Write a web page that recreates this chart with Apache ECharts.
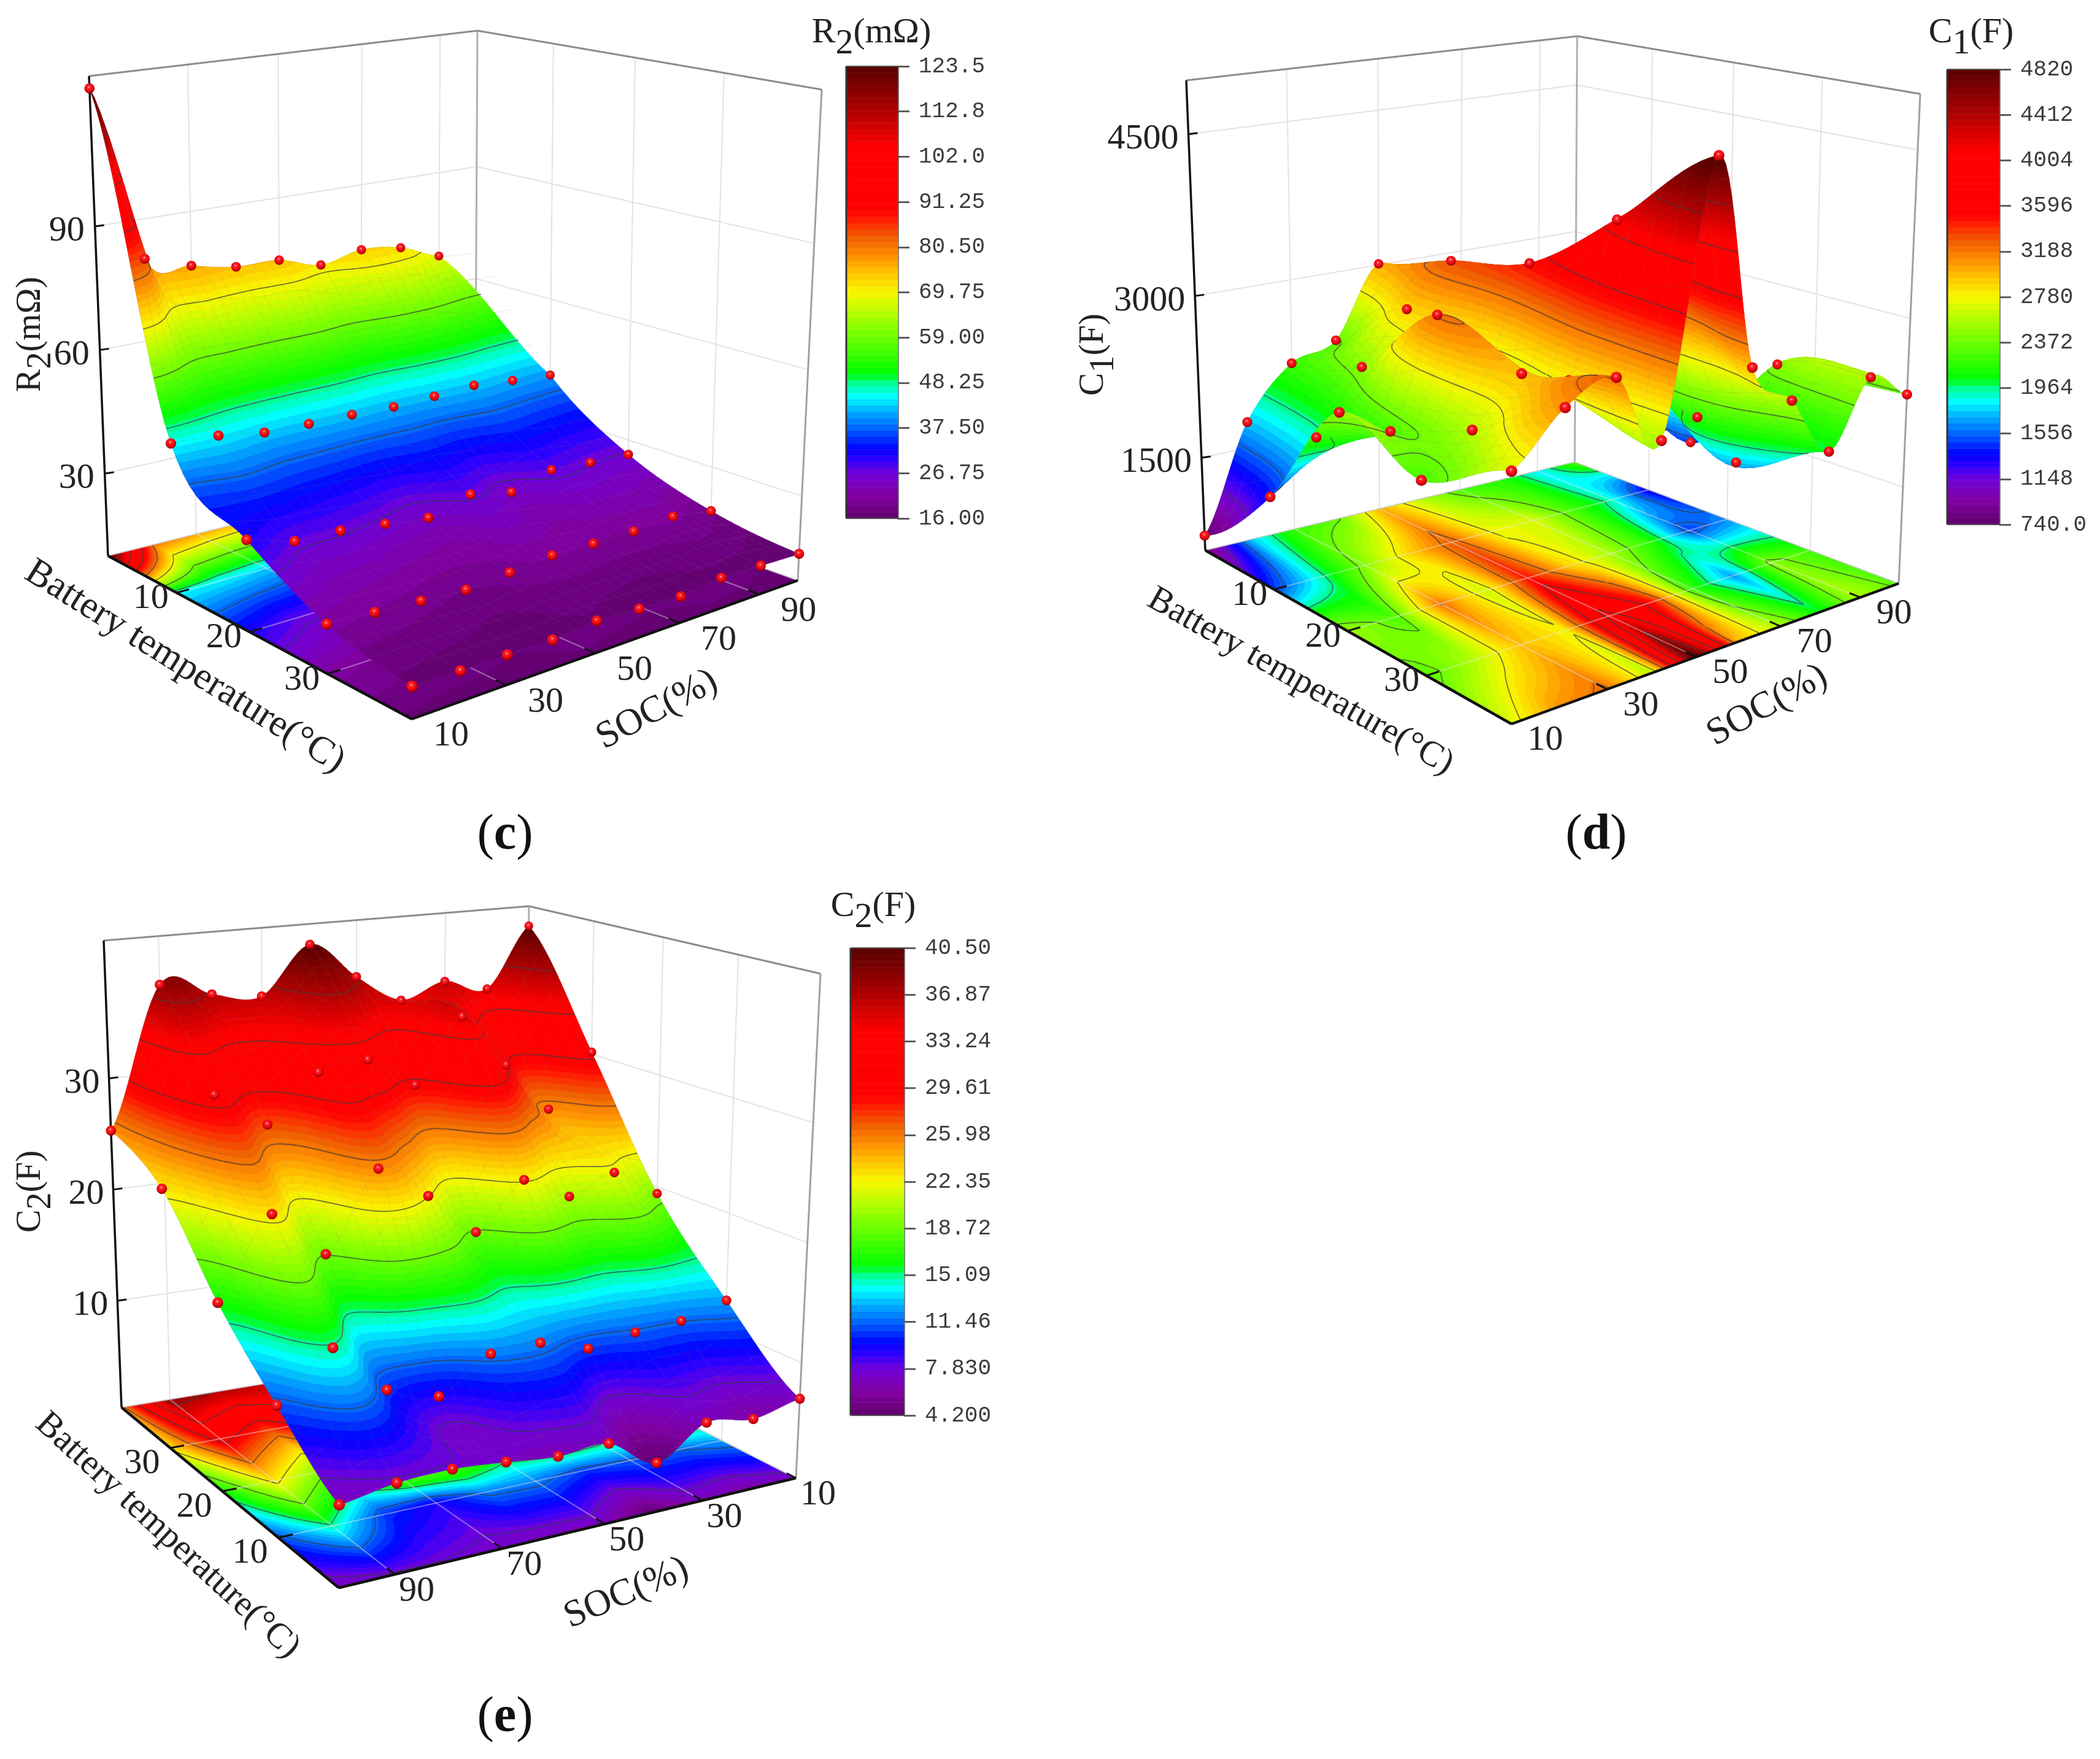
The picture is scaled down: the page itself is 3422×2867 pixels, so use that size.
<!DOCTYPE html>
<html><head><meta charset="utf-8"><style>html,body{margin:0;background:#fff}#c{width:3422px;height:2867px}</style></head>
<body><div id="c"></div>
<script src="https://cdn.jsdelivr.net/npm/echarts@6/dist/echarts.min.js"></script>
<script>
// ---------- data ----------
const socValues = [10,20,30,40,50,60,70,80,90,100];
const tempValues = [0,10,20,30,40];
const socTicks = [10,30,50,70,90];
const tempTicks = [10,20,30];

const r2_T0  = [123.5,80.2,76.6,74.4,74.2,71.1,73.2,71.9,67.9,null];
const r2_T10 = [45.2,44.5,42.7,42.3,42.1,41.6,41.9,42.3,41.2,40.3];
const r2_T20 = [31.1,27.8,27.3,26.0,24.6,27.4,25.2,27.9,27.0,26.4];
const r2_T30 = [21.1,20.4,19.7,19.0,19.8,20.7,20.4,20.3,20.9,19.3];
const r2_T40 = [17.1,16.8,16.7,16.5,17.3,16.6,16.1,17.1,16.7,16.3];
const r2Ticks = ['123.5','112.8','102.0','91.25','80.50','69.75','59.00','48.25','37.50','26.75','16.00'];
const r2AxisTicks = [30,60,90];

const c1_T0  = [777,1741,2211,2350,3013,2600,2250,2150,1800,2300];
const c1_T10 = [1469,1906,2456,2902,3275,2750,2700,2250,1900,1300];
const c1_T20 = [2537,2268,3198,2650,3486,2900,2550,2150,1471,1650];
const c1_T30 = [2282,2591,2964,2801,4104,3500,2171,1660,2449,2200];
const c1_T40 = [2705,3100,3229,2585,4880,2978,2587,2035,2579,2323];
const c1Ticks = ['4820','4412','4004','3596','3188','2780','2372','1964','1556','1148','740.0'];
const c1AxisTicks = [1500,3000,4500];

const c2_T0  = [7.0,6.2,6.8,4.4,6.9,6.8,7.3,7.7,7.6,6.9];
const c2_T10 = [12.5,11.5,11.3,10.7,12.0,11.9,9.2,10.6,14.9,11.1];
const c2_T20 = [19.4,21.9,20.4,22.5,18.6,22.4,25.4,18.8,22.9,16.2];
const c2_T30 = [30.2,25.4,30.0,34.9,29.2,32.0,31.4,27.3,30.5,22.9];
const c2_T40 = [40.5,34.8,35.9,34.5,37.1,40.5,36.1,36.7,38.0,25.3];
const c2Ticks = ['40.50','36.87','33.24','29.61','25.98','22.35','18.72','15.09','11.46','7.830','4.200'];
const c2AxisTicks = [10,20,30];

// colour ramp of the colour bars: position from the bottom, colour
const rampPos = [0,.05,.10,.13,.155,.19,.23,.27,.30,.32,.38,.44,.50,.54,.58,.62,.66,.68,.82,.90,1];
const rampCol = ['#60006a','#8000a0','#7000d8','#3000ff','#0000ff','#0050ff','#00a0ff','#00ffff','#00ff90','#00ff00','#50ff00','#a0ff00','#f8f800','#ffc800','#ff9000','#f06000','#ff2000','#ff0000','#ff0000','#b00000','#580000'];
const BANDS = 72;

// ---------- helpers ----------
const SERIF = '"Liberation Serif",serif';
function hex(c){return [1,3,5].map(i=>parseInt(c.substr(i,2),16));}
function rampColor(f){
  let i=0; while(i<rampPos.length-2&&f>rampPos[i+1])i++;
  const t=Math.min(1,Math.max(0,(f-rampPos[i])/(rampPos[i+1]-rampPos[i])));
  const a=hex(rampCol[i]),b=hex(rampCol[i+1]);
  return 'rgb('+a.map((x,k)=>Math.round(x+(b[k]-x)*t)).join(',')+')';
}
const bandColors=[]; for(let i=0;i<BANDS;i++)bandColors.push(rampColor((i+.5)/BANDS));

function quadMap(p){
  const [x0,y0]=p[0],[x1,y1]=p[1],[x2,y2]=p[2],[x3,y3]=p[3];
  const dx1=x1-x2,dx2=x3-x2,sx=x0-x1+x2-x3,dy1=y1-y2,dy2=y3-y2,sy=y0-y1+y2-y3,D=dx1*dy2-dx2*dy1;
  const g=(sx*dy2-dx2*sy)/D,h=(dx1*sy-sx*dy1)/D;
  const a=x1-x0+g*x1,b=x3-x0+h*x3,d=y1-y0+g*y1,e=y3-y0+h*y3;
  return (u,v)=>{const w=g*u+h*v+1;
    const bx=(1-u)*(1-v)*x0+u*(1-v)*x1+u*v*x2+(1-u)*v*x3,by=(1-u)*(1-v)*y0+u*(1-v)*y1+u*v*y2+(1-u)*v*y3;
    return [.62*(a*u+b*v+x0)/w+.38*bx,.62*(d*u+e*v+y0)/w+.38*by];};
}
function cr(a,b,c,d,t){return .5*(2*b+(c-a)*t+(2*a-5*b+4*c-d)*t*t+(3*b-a-3*c+d)*t*t*t);}

function makePanel(cfg){
  const F=quadMap(cfg.base),T=quadMap(cfg.top),[z0,z1]=cfg.zr;
  const proj=(u,v,z)=>{const f=F(u,v),t=T(u,v),w=(z-z0)/(z1-z0);return [f[0]+(t[0]-f[0])*w,f[1]+(t[1]-f[1])*w];};
  const rows=cfg.rows, g=rows.map(r=>r.slice());
  g.forEach((r,i)=>r.forEach((v,j)=>{if(v==null)g[i][j]=g[i][j-1]+g[i+1][j]-g[i+1][j-1];}));
  const nr=g.length,nc=g[0].length;
  const cl=(x,a)=>Math.max(0,Math.min(a,x));
  const smooth=(r,c,s,t)=>{ // catmull-rom over the read values, for drawing only
    const col=[];for(let k=-1;k<=2;k++){const R=g[cl(r+k,nr-1)];
      col.push(cr(R[cl(c-1,nc-1)],R[c],R[cl(c+1,nc-1)],R[cl(c+2,nc-1)],s));}
    return cr(col[0],col[1],col[2],col[3],t);};
  const linear=(r,c,s,t)=>(1-s)*(1-t)*g[r][c]+s*(1-t)*g[r][c+1]+s*t*g[r+1][c+1]+(1-s)*t*g[r+1][c];
  const levels=cfg.ticks.map(parseFloat), vmax=levels[0], vmin=levels[levels.length-1];
  const band=v=>Math.max(0,Math.min(BANDS-1,Math.floor((v-vmin)/(vmax-vmin)*BANDS)));
  const bandEdge=b=>vmin+(vmax-vmin)*b/BANDS;
  return {cfg,proj,smooth,linear,rows,band,bandEdge,levels:levels.slice(1,-1)};
}
const f1=x=>x.toFixed(1);
function polyPath(pts){return 'M'+pts.map(p=>f1(p[0])+' '+f1(p[1])).join('L')+'Z';}
function clipBy(poly,thr,above){ // keep the part of a polygon whose value is above / below thr
  const out=[];
  for(let i=0;i<poly.length;i++){
    const a=poly[i],b=poly[(i+1)%poly.length];
    const ina=above?a[2]>=thr:a[2]<=thr,inb=above?b[2]>=thr:b[2]<=thr;
    if(ina)out.push(a);
    if(ina!==inb){const w=(thr-a[2])/(b[2]-a[2]);out.push([a[0]+(b[0]-a[0])*w,a[1]+(b[1]-a[1])*w,thr]);}
  }
  return out;
}

const N=12,MESH=3;
function drawCell(P,r,c,isFloor){
  const {cfg,proj,rows,band,bandEdge}=P;
  const [z0]=cfg.zr, children=[];
  const val=isFloor?P.linear:P.smooth;
  const vals=[],pts=[];
  for(let j=0;j<=N;j++){vals[j]=[];pts[j]=[];
    for(let i=0;i<=N;i++){
      const s=i/N,t=j/N,v=val(r,c,s,t);vals[j][i]=v;
      const q=proj((c+s)/9,(r+t)/4,isFloor?z0:v);q.push(v);pts[j][i]=q;
    }}
  const masked=rows[r][c+1]==null; // the grid has no reading at this corner: a triangular patch
  const order=[];for(let j=0;j<N;j++)order.push(cfg.nearV?j:N-1-j);
  const trisOf=(i,j)=>{
    const A=pts[j][i],B=pts[j][i+1],C=pts[j+1][i+1],D=pts[j+1][i];
    if(masked){ if(i>j)return []; if(i===j)return [[A,C,D]]; }
    return [[A,B,C],[A,C,D]];
  };
  for(const j of order){
    const byBand={};
    for(let i=0;i<N;i++){
      for(const tri of trisOf(i,j)){
        const vs=tri.map(p=>p[2]),b0=band(Math.min(...vs)),b1=band(Math.max(...vs));
        for(let b=b0;b<=b1;b++){
          let poly=tri;
          if(b>b0)poly=clipBy(poly,bandEdge(b),true);
          if(b<b1&&poly.length)poly=clipBy(poly,bandEdge(b+1),false);
          if(poly.length>2)(byBand[b]=byBand[b]||[]).push(polyPath(poly));
        }
      }
    }
    for(const b in byBand){
      children.push({type:'path',shape:{pathData:byBand[b].join('')},style:{fill:bandColors[b],stroke:bandColors[b],lineWidth:.8}});
    }
  }
  // faint mesh
  if(!isFloor){
    let m='';
    for(let k=0;k<=N;k+=MESH){
      for(let q=0;q<N;q++){
        if(!masked||q>=k) m+='M'+f1(pts[k][q][0])+' '+f1(pts[k][q][1])+'L'+f1(pts[k][q+1][0])+' '+f1(pts[k][q+1][1]);
        if(!masked||k<=q) m+='M'+f1(pts[q][k][0])+' '+f1(pts[q][k][1])+'L'+f1(pts[q+1][k][0])+' '+f1(pts[q+1][k][1]);
      }
    }
    children.push({type:'path',shape:{pathData:m},style:{fill:'none',stroke:'rgba(125,125,125,.17)',lineWidth:1}});
  }
  // contour lines
  let cont='';
  for(const L of P.levels){
    for(let j=0;j<N;j++)for(let i=0;i<N;i++){
      if(masked&&i>j)continue;
      const q=[[j,i],[j,i+1],[j+1,i+1],[j+1,i]],x=[];
      for(let e=0;e<4;e++){
        const a=q[e],b=q[(e+1)%4],va=vals[a[0]][a[1]],vb=vals[b[0]][b[1]];
        if((va<L)!==(vb<L)){const w=(L-va)/(vb-va),pa=pts[a[0]][a[1]],pb=pts[b[0]][b[1]];
          x.push([pa[0]+(pb[0]-pa[0])*w,pa[1]+(pb[1]-pa[1])*w]);}
      }
      for(let e=0;e+1<x.length;e+=2)cont+='M'+f1(x[e][0])+' '+f1(x[e][1])+'L'+f1(x[e+1][0])+' '+f1(x[e+1][1]);
    }
  }
  if(cont)children.push({type:'path',shape:{pathData:cont},style:{fill:'none',stroke:'rgba(60,60,60,.72)',lineWidth:1.7}});
  return {type:'group',children};
}
function drawNode(P,r,c){
  const v=P.rows[r][c]; if(v==null)return null;
  const {cfg,proj}=P;
  const p=proj(c/9,r/4,v);
  const a=cfg.nearU?c/9:1-c/9,b=cfg.nearV?r/4:1-r/4;
  const R=7.2+2.2*(a+b)/2;
  return {type:'circle',shape:{cx:p[0],cy:p[1],r:R},style:{fill:{type:'radial',x:.45,y:.38,r:.62,colorStops:[
    {offset:0,color:'#ffc8c8'},{offset:.2,color:'#ff2a2a'},{offset:.7,color:'#e2000e'},{offset:1,color:'#8c0000'}]}}};
}
function itemsOf(P){
  const {cfg}=P,items=[];
  for(let r=0;r<4;r++)for(let c=0;c<9;c++){
    const a=cfg.nearU?c:8-c,b=cfg.nearV?r:3-r; items.push({k:a+b+1,v:[0,r,c]});}
  for(let r=0;r<5;r++)for(let c=0;c<10;c++){
    const a=cfg.nearU?c:9-c,b=cfg.nearV?r:4-r; items.push({k:a+b+1.1,v:[1,r,c]});}
  items.sort((x,y)=>x.k-y.k);
  return items.map(x=>x.v);
}
function line(p,q,color,w){return {type:'line',shape:{x1:p[0],y1:p[1],x2:q[0],y2:q[1]},style:{stroke:color,lineWidth:w}};}
function text(str,x,y,font,opt){opt=opt||{};
  return {type:'text',x,y,rotation:opt.rot||0,style:Object.assign({text:str,fontFamily:SERIF,fontSize:font,fill:opt.fill||'#222',align:'center',verticalAlign:'middle'},opt.style||{})};}
const measure=document.createElement('canvas').getContext('2d');
function subText(a,sub,b,x,y,font,rot){
  rot=rot||0; measure.font=font+'px "Liberation Serif"';
  const parts=[[a,0],[sub,.3*font],[b,0]],widths=parts.map(p=>measure.measureText(p[0]).width),W=widths[0]+widths[1]+widths[2];
  const dx=Math.cos(rot),dy=-Math.sin(rot),nx=Math.sin(rot),ny=Math.cos(rot);
  let off=-W/2;const children=[];
  parts.forEach((p,i)=>{
    children.push(text(p[0],x+dx*off+nx*p[1],y+dy*off+ny*p[1],font,{rot,style:{align:'left'}}));
    off+=widths[i];});
  return {type:'group',children};
}
const U=s=>(s-10)/90,V=t=>t/40;
function drawBack(P){
  const {cfg,proj}=P,[z0,z1]=cfg.zr,ch=[];
  const lv=1-cfg.nearV, ru=1-cfg.nearU, lu=cfg.nearU, fv=cfg.nearV;
  const GRID='#e3e3e3',EDGE='#8c8c8c';
  for(const s of socTicks)ch.push(line(proj(U(s),lv,z0),proj(U(s),lv,z1),GRID,2));
  for(const t of tempTicks)ch.push(line(proj(ru,V(t),z0),proj(ru,V(t),z1),GRID,2));
  for(const z of cfg.axisTicks){
    ch.push(line(proj(lu,lv,z),proj(ru,lv,z),GRID,2));
    ch.push(line(proj(ru,lv,z),proj(ru,fv,z),GRID,2));
  }
  ch.push(line(proj(ru,lv,z0),proj(ru,lv,z1),'#b0b0b0',3));
  ch.push(line(proj(ru,fv,z0),proj(ru,fv,z1),'#a0a0a0',3));
  ch.push(line(proj(lu,lv,z1),proj(ru,lv,z1),EDGE,3));
  ch.push(line(proj(ru,lv,z1),proj(ru,fv,z1),EDGE,3));
  return {type:'group',children:ch};
}
function drawOver(P){
  const {cfg,proj}=P,[z0,z1]=cfg.zr,ch=[];
  const lv=1-cfg.nearV, ru=1-cfg.nearU, lu=cfg.nearU, fv=cfg.nearV;
  const PALE='rgba(232,232,232,.45)';
  for(const s of socTicks){ch.push(line(proj(U(s),lv,z0),proj(U(s),fv,z0),PALE,2));}
  for(const t of tempTicks){ch.push(line(proj(lu,V(t),z0),proj(ru,V(t),z0),PALE,2));}
  ch.push(line(proj(lu,lv,z0),proj(ru,lv,z0),'#c8c8c8',1.5));
  ch.push(line(proj(ru,lv,z0),proj(ru,fv,z0),'#c8c8c8',1.5));
  ch.push(line(proj(lu,lv,z0),proj(lu,lv,z1),'#111',3.5));
  ch.push(line(proj(lu,lv,z0),proj(lu,fv,z0),'#111',4.5));
  ch.push(line(proj(lu,fv,z0),proj(ru,fv,z0),'#111',4.5));
  for(const z of cfg.axisTicks){const p=proj(lu,lv,z);ch.push(line(p,[p[0]+15,p[1]-2],'#111',3));}
  const du=cfg.nearU?-.03:.03,dv=cfg.nearV?-.03:.03;
  for(const s of socTicks){ch.push(line(proj(U(s),fv,z0),proj(U(s),fv+dv,z0),'#111',3));}
  for(const t of tempTicks){ch.push(line(proj(lu,V(t),z0),proj(lu+du,V(t),z0),'#111',3));}
  return {type:'group',children:ch};
}
function drawLabels(P){
  const {cfg,proj}=P,[z0]=cfg.zr,ch=[],L=cfg.labels;
  const lv=1-cfg.nearV,lu=cfg.nearU,fv=cfg.nearV;
  for(const z of cfg.axisTicks){const p=proj(lu,lv,z);ch.push(text(String(z),p[0]+L.zOff,p[1]+8,L.tickFont));}
  for(const s of socTicks){const p=proj(U(s),fv,z0);ch.push(text(String(s),p[0]+L.socOff[0],p[1]+L.socOff[1],L.tickFont));}
  for(const t of tempTicks){const p=proj(lu,V(t),z0);ch.push(text(String(t),p[0]+L.tempOff[0],p[1]+L.tempOff[1],L.tickFont));}
  ch.push(text('Battery temperature(°C)',L.temp[0],L.temp[1],L.temp[3],{rot:-L.temp[2]*Math.PI/180}));
  ch.push(text('SOC(%)',L.soc[0],L.soc[1],L.soc[3],{rot:L.soc[2]*Math.PI/180}));
  ch.push(subText(L.sym[0],L.sym[1],L.sym[2],L.zTitle[0],L.zTitle[1],L.zTitle[2],Math.PI/2));
  ch.push(subText(L.sym[0],L.sym[1],L.sym[2],L.barTitle[0],L.barTitle[1],L.barTitle[2],0));
  ch.push(text('{p|(}{b|'+L.tag[0]+'}{p|)}',L.tag[1],L.tag[2],78,{style:{rich:{
    p:{fontFamily:SERIF,fontSize:82,fill:'#111'},b:{fontFamily:SERIF,fontSize:82,fontWeight:'bold',fill:'#111'}}}}));
  return {type:'group',children:ch};
}

// ---------- panels ----------
const panels=[
 makePanel({rows:[r2_T0,r2_T10,r2_T20,r2_T30,r2_T40],ticks:r2Ticks,axisTicks:r2AxisTicks,zr:[10,126.5],nearU:0,nearV:1,
  base:[[176,906],[774,758],[1300,946],[671,1172]],top:[[145,124],[778,50],[1339,146],[676,298]],
  bar:{left:1379,top:108,width:84,height:737},
  labels:{tickFont:58,zOff:-46,socOff:[64,28],tempOff:[-42,10],temp:[301,1087,32,62],soc:[1071,1157,28,62],
   sym:['R','2','(mΩ)'],zTitle:[50,545,56],barTitle:[1420,54,58],tag:['c',823,1362]}}),
 makePanel({rows:[c1_T0,c1_T10,c1_T20,c1_T30,c1_T40],ticks:c1Ticks,axisTicks:c1AxisTicks,zr:[640,5000],nearU:0,nearV:1,
  base:[[1964,897],[2566,753],[3094,951],[2463,1180]],top:[[1933,131],[2570,59],[3129,153],[2463,310]],
  bar:{left:3173,top:113,width:85,height:742},
  labels:{tickFont:58,zOff:-74,socOff:[55,27],tempOff:[-40,10],temp:[2119,1111,29.5,58],soc:[2880,1150,29,62],
   sym:['C','1','(F)'],zTitle:[1782,578,56],barTitle:[3212,54,58],tag:['d',2601,1362]}}),
 makePanel({rows:[c2_T0,c2_T10,c2_T20,c2_T30,c2_T40],ticks:c2Ticks,axisTicks:c2AxisTicks,zr:[0.4,42.4],nearU:1,nearV:0,
  base:[[1297,2409],[552,2588],[198,2294],[855,2185]],top:[[1337,1587],[557,1713],[169,1533],[862,1477]],
  bar:{left:1386,top:1545,width:87,height:762},
  labels:{tickFont:58,zOff:-44,socOff:[36,28],tempOff:[-46,26],temp:[273,2503,42.6,58],soc:[1021,2597,23,62],
   sym:['C','2','(F)'],zTitle:[50,1942,56],barTitle:[1423,1478,58],tag:['e',823,2800]}})
];

// ---------- option ----------
const series=[],grid=[],xAxis=[],yAxis=[];
panels.forEach((P,idx)=>{
  const b=P.cfg.bar,labels=P.cfg.ticks;
  grid.push({left:b.left,top:b.top,width:b.width,height:b.height});
  xAxis.push({type:'value',gridIndex:idx,min:0,max:1,show:false});
  yAxis.push({type:'value',gridIndex:idx,min:0,max:10,interval:1,position:'right',
    axisLine:{show:true,onZero:false,lineStyle:{color:'#808080',width:3}},
    axisTick:{show:true,length:19,lineStyle:{color:'#606060',width:3}},splitLine:{show:false},
    axisLabel:{show:true,margin:34,color:'#3c3c3c',fontFamily:'"Liberation Mono",monospace',fontSize:36,formatter:v=>labels[10-v]}});
  const bands=[];for(let i=0;i<BANDS;i++)bands.push([i/BANDS*10,(i+1)/BANDS*10,i]);
  series.push({type:'custom',xAxisIndex:idx,yAxisIndex:idx,coordinateSystem:'cartesian2d',silent:true,data:bands,clip:false,
    encode:{y:[0,1]},
    renderItem:(p,api)=>{const a=api.coord([0,api.value(0)]),c=api.coord([1,api.value(1)]),col=bandColors[api.value(2)];
      return {type:'rect',shape:{x:a[0],y:c[1],width:c[0]-a[0],height:a[1]-c[1]},style:{fill:col,stroke:col,lineWidth:.6}};}});
  series.push({type:'custom',xAxisIndex:idx,yAxisIndex:idx,coordinateSystem:'cartesian2d',silent:true,data:[[0,10]],clip:false,
    encode:{y:[0,1]},
    renderItem:(p,api)=>{const a=api.coord([0,0]),c=api.coord([1,10]);
      return {type:'group',children:[line([a[0],a[1]],[a[0],c[1]],'#333',3),line([a[0],c[1]],[c[0],c[1]],'#555',2),line([a[0],a[1]],[c[0],a[1]],'#555',2)]};}});
  const one=(fn)=>({type:'custom',coordinateSystem:'none',silent:true,data:[[0]],renderItem:fn});
  series.push(one(()=>drawBack(P)));
  const cells=[];for(let r=0;r<4;r++)for(let c=0;c<9;c++)cells.push([r,c]);
  series.push({type:'custom',coordinateSystem:'none',silent:true,data:cells,
    renderItem:(p,api)=>drawCell(P,api.value(0),api.value(1),true)});
  series.push(one(()=>drawOver(P)));
  series.push({type:'custom',coordinateSystem:'none',silent:true,data:itemsOf(P),
    renderItem:(p,api)=>api.value(0)===0?drawCell(P,api.value(1),api.value(2),false):drawNode(P,api.value(1),api.value(2))});
  series.push(one(()=>drawLabels(P)));
});
const chart=echarts.init(document.getElementById('c'),null,{renderer:'canvas',width:3422,height:2867});
chart.setOption({backgroundColor:'#fff',animation:false,grid,xAxis,yAxis,series});
</script></body></html>
